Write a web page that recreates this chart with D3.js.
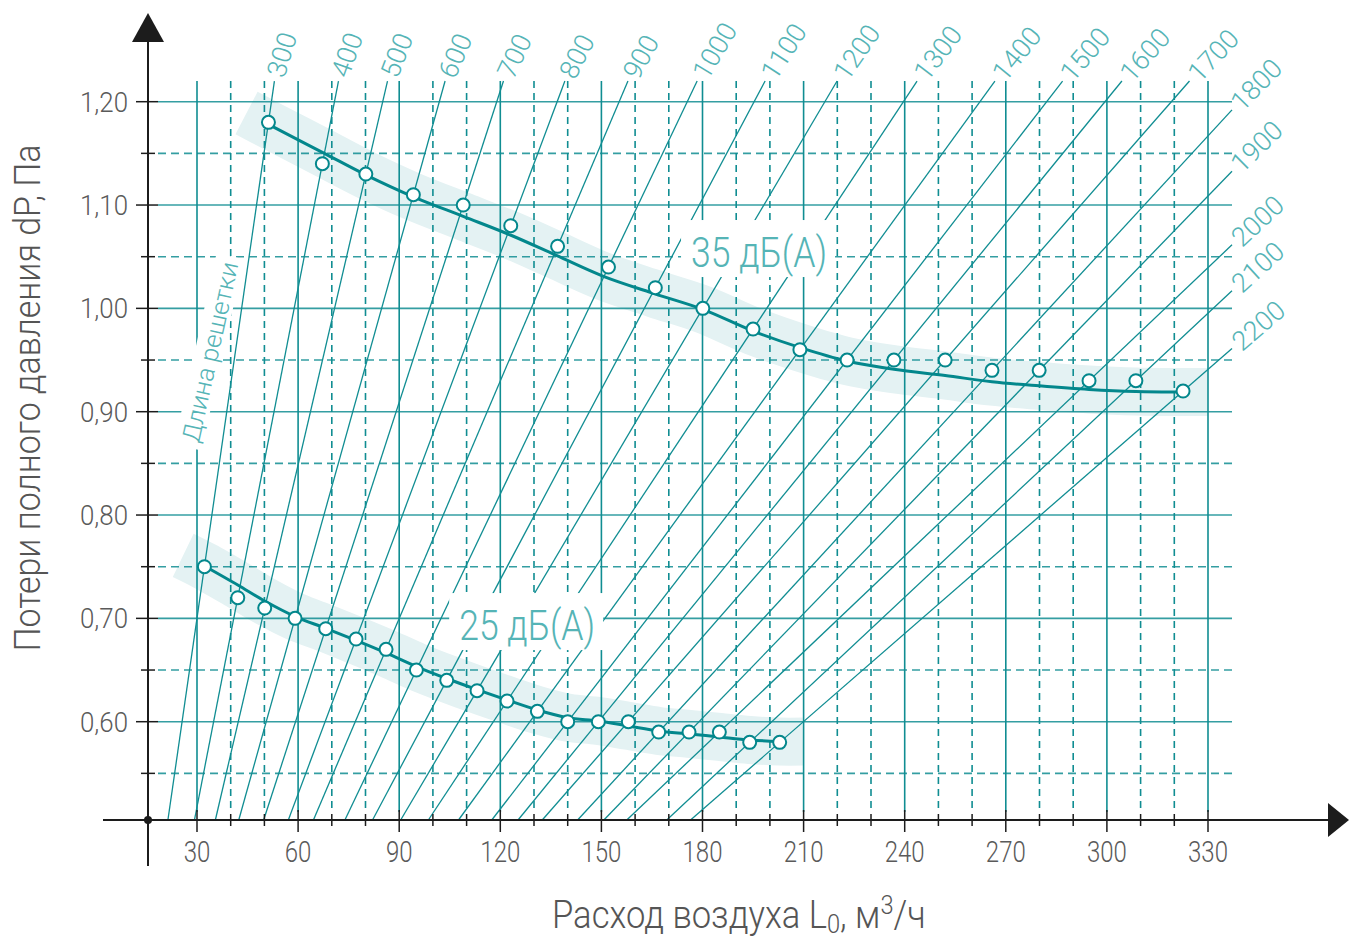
<!DOCTYPE html>
<html>
<head>
<meta charset="utf-8">
<script src="https://cdn.jsdelivr.net/npm/d3@7"></script>
<style>
  body { margin: 0; background: #fff; }
  text { font-family: Roboto, "Open Sans", sans-serif; font-weight: 300; }
</style>
</head>
<body>
<svg id="chart" width="1349" height="939"></svg>
<script>
// длина решетки, мм
const grilleLen = [300, 400, 500, 600, 700, 800, 900, 1000, 1100, 1200,
                   1300, 1400, 1500, 1600, 1700, 1800, 1900, 2000, 2100, 2200];

// точки 35 дБ(А): расход и потери давления
const L35  = [51.2, 67.2, 80.1, 94.2, 109.0, 123.1, 137.0, 152.1, 166.0, 180.1,
              195.0, 208.9, 222.9, 236.8, 252.0, 265.9, 279.9, 294.7, 308.6, 322.6];
const dP35 = [1.18, 1.14, 1.13, 1.11, 1.10, 1.08, 1.06, 1.04, 1.02, 1.00,
              0.98, 0.96, 0.95, 0.95, 0.95, 0.94, 0.94, 0.93, 0.93, 0.92];

// точки 25 дБ(А)
const L25  = [32.2, 42.1, 50.1, 59.1, 68.2, 77.2, 86.1, 95.1, 104.1, 113.1,
              122.0, 131.0, 140.0, 149.1, 158.0, 167.0, 176.0, 185.0, 194.0, 202.9];
const dP25 = [0.75, 0.72, 0.71, 0.70, 0.69, 0.68, 0.67, 0.65, 0.64, 0.63,
              0.62, 0.61, 0.60, 0.60, 0.60, 0.59, 0.59, 0.59, 0.58, 0.58];

// сглаженные кривые
const curve35L  = [51.2, 67.2, 80.2, 94.2, 109.0, 123.0, 136.8, 150.6, 165.9, 180.1,
                   195.0, 209.0, 222.9, 236.8, 252.0, 265.9, 279.9, 294.7, 308.6, 322.6];
const curve35dP = [1.178, 1.151, 1.129, 1.108, 1.089, 1.071, 1.051, 1.031, 1.014, 0.999,
                   0.978, 0.962, 0.949, 0.941, 0.935, 0.929, 0.925, 0.9215, 0.9195, 0.919];
const curve25L  = [32.2, 42.1, 50.1, 59.1, 68.2, 77.2, 86.1, 95.1, 104.1, 113.1,
                   122.0, 131.0, 140.0, 149.1, 158.0, 167.0, 176.0, 185.0, 194.0, 202.9];
const curve25dP = [0.7507, 0.7323, 0.7168, 0.7018, 0.6904, 0.6786, 0.6665, 0.6534, 0.6418, 0.6310,
                   0.6210, 0.6113, 0.6039, 0.6007, 0.5959, 0.5910, 0.5882, 0.5852, 0.5823, 0.5808];

// концы подсвеченных полос
const band35L = [44.7, 330], band35dP = [1.189, 0.919];
const band25L = [25.9, 209.8], band25dP = [0.761, 0.5808];

const xMajor = d3.range(30, 331, 30);
const xMinor = d3.range(40, 330, 10).filter(v => v % 30 !== 0);
const yMajor = [0.60, 0.70, 0.80, 0.90, 1.00, 1.10, 1.20];
const yMinor = [0.55, 0.65, 0.75, 0.85, 0.95, 1.05, 1.15];

const teal = "#108d92", tealText = "#55b4b6", bandColor = "#e4f2f3", axisColor = "#1c1c1c";

const svg = d3.select("#chart");
const x = d3.scaleLinear().domain([30, 330]).range([197, 1208]);
const y = d3.scaleLinear().domain([0.6, 1.2]).range([721.7, 101.7]);

const axisX = 148, axisY = 820;
const gridTop = y(1.22), gridRight = x(330) + 24, gridLeft = axisX + 10;

const line = d3.line().curve(d3.curveCatmullRom).x(d => x(d[0])).y(d => y(d[1]));
const pairs = (a, b) => a.map((v, i) => [v, b[i]]);

// полосы
function band(pts, ends) {
  const all = [[ends[0][0], ends[1][0]], ...pts, [ends[0][1], ends[1][1]]];
  svg.append("path").attr("d", line(all))
    .attr("fill", "none").attr("stroke", bandColor)
    .attr("stroke-width", 48).attr("stroke-linecap", "butt");
}
band(pairs(curve35L, curve35dP), [band35L, band35dP]);
band(pairs(curve25L, curve25dP), [band25L, band25dP]);

// сетка
const grid = svg.append("g").attr("stroke", teal).attr("stroke-width", 1.6);
grid.selectAll(".hm").data(yMajor).enter().append("line")
  .attr("x1", gridLeft).attr("x2", gridRight)
  .attr("y1", d => y(d)).attr("y2", d => y(d)).attr("stroke-opacity", 0.85);
grid.selectAll(".hn").data(yMinor).enter().append("line")
  .attr("x1", gridLeft).attr("x2", gridRight)
  .attr("y1", d => y(d)).attr("y2", d => y(d))
  .attr("stroke-dasharray", "8,5").attr("stroke-opacity", 0.85);
grid.selectAll(".vm").data(xMajor).enter().append("line")
  .attr("x1", d => x(d)).attr("x2", d => x(d))
  .attr("y1", gridTop).attr("y2", axisY - 8);
grid.selectAll(".vn").data(xMinor).enter().append("line")
  .attr("x1", d => x(d)).attr("x2", d => x(d))
  .attr("y1", gridTop).attr("y2", axisY - 8)
  .attr("stroke-dasharray", "7,5");

// подпись "Длина решетки"
const lenLabel = svg.append("g").attr("transform", "translate(210,352) rotate(-77.5)");
lenLabel.append("rect").attr("x", -98).attr("y", -15).attr("width", 196).attr("height", 28).attr("fill", "#fff");
lenLabel.append("text").attr("text-anchor", "middle").attr("dy", "0.35em")
  .attr("font-size", 25).attr("fill", tealText)
  .attr("textLength", 184).attr("lengthAdjust", "spacingAndGlyphs")
  .text("Длина решетки");

// линии длины решетки
const diag = svg.append("g");
grilleLen.forEach((len, i) => {
  const ax = x(L25[i]), ay = y(dP25[i]), bx = x(L35[i]), by = y(dP35[i]);
  const dx = bx - ax, dy = by - ay;
  let t = (axisY - ay) / dy;
  const x0 = ax + t * dx, y0 = axisY;
  t = (gridTop - ay) / dy;
  let x1 = ax + t * dx, y1 = gridTop;
  if (x1 > gridRight) {
    t = (gridRight - ax) / dx;
    x1 = gridRight; y1 = ay + t * dy;
  }
  diag.append("line").attr("x1", x0).attr("y1", y0).attr("x2", x1).attr("y2", y1)
    .attr("stroke", teal).attr("stroke-width", 1.3);
  const len2 = Math.hypot(dx, dy), ux = dx / len2, uy = dy / len2;
  const ang = Math.atan2(-dy, dx) * 180 / Math.PI;
  const labAng = 40 + (ang - 40) * 0.78;
  diag.append("text")
    .attr("transform", `translate(${x1 + ux * 5},${y1 + uy * 5}) rotate(${-labAng})`)
    .attr("dy", "0.35em").attr("font-size", 27).attr("fill", tealText)
    .text(len);
});

// подписи уровней шума
function noiseLabel(txt, lx, ly) {
  const g = svg.append("g");
  const t = g.append("text").attr("x", x(lx)).attr("y", y(ly))
    .attr("font-size", 43).attr("fill", tealText)
    .attr("textLength", 136).attr("lengthAdjust", "spacingAndGlyphs").text(txt);
  const b = t.node().getBBox();
  g.insert("rect", "text").attr("x", b.x - 10).attr("y", y(ly) - 47)
    .attr("width", b.width + 18).attr("height", 57).attr("fill", "#fff");
}
noiseLabel("35 дБ(A)", 176.6, 1.04);
noiseLabel("25 дБ(A)", 107.8, 0.679);

// кривые
[[curve35L, curve35dP], [curve25L, curve25dP]].forEach(c => {
  svg.append("path").attr("d", line(pairs(c[0], c[1])))
    .attr("fill", "none").attr("stroke", "#03878c").attr("stroke-width", 3);
});

// маркеры
[[L35, dP35], [L25, dP25]].forEach(s => {
  svg.append("g").selectAll("circle").data(pairs(s[0], s[1])).enter().append("circle")
    .attr("cx", d => x(d[0])).attr("cy", d => y(d[1])).attr("r", 6.5)
    .attr("fill", "#fff").attr("stroke", "#03878c").attr("stroke-width", 2);
});

// оси
const ax = svg.append("g").attr("stroke", axisColor).attr("stroke-width", 2);
ax.append("line").attr("x1", axisX).attr("x2", axisX).attr("y1", 36).attr("y2", 866);
ax.append("line").attr("x1", 103).attr("x2", 1332).attr("y1", axisY).attr("y2", axisY);
svg.append("path").attr("d", `M${axisX},13 L${axisX - 16},42 L${axisX + 16},42 Z`).attr("fill", axisColor);
svg.append("path").attr("d", `M1349,${axisY} L1328,${axisY - 17} L1328,${axisY + 17} Z`).attr("fill", axisColor);
svg.append("circle").attr("cx", axisX).attr("cy", axisY).attr("r", 4).attr("fill", axisColor);

const tk = svg.append("g").attr("stroke", axisColor).attr("stroke-width", 1.5);
tk.selectAll(".a").data(xMajor).enter().append("line")
  .attr("x1", d => x(d)).attr("x2", d => x(d)).attr("y1", axisY - 10).attr("y2", axisY + 12);
tk.selectAll(".b").data(xMinor).enter().append("line")
  .attr("x1", d => x(d)).attr("x2", d => x(d)).attr("y1", axisY - 6).attr("y2", axisY + 6);
tk.selectAll(".c").data(yMajor).enter().append("line")
  .attr("x1", axisX - 12).attr("x2", axisX + 10).attr("y1", d => y(d)).attr("y2", d => y(d));
tk.selectAll(".d").data(yMinor).enter().append("line")
  .attr("x1", axisX - 7).attr("x2", axisX + 7).attr("y1", d => y(d)).attr("y2", d => y(d));

const fmt = d => d3.format(".2f")(d).replace(".", ",");
svg.append("g").selectAll("text").data(xMajor).enter().append("text")
  .attr("x", d => x(d)).attr("y", 862).attr("text-anchor", "middle")
  .attr("font-size", 29).attr("fill", "#5a5a5a")
  .attr("textLength", d => String(d).length * 13.3).attr("lengthAdjust", "spacingAndGlyphs")
  .text(d => d);
svg.append("g").selectAll("text").data(yMajor).enter().append("text")
  .attr("x", 128).attr("y", d => y(d) + 10).attr("text-anchor", "end")
  .attr("font-size", 28).attr("fill", "#5a5a5a")
  .attr("textLength", 48).attr("lengthAdjust", "spacingAndGlyphs")
  .text(fmt);

// названия осей
svg.append("text").attr("transform", "translate(40,398) rotate(-90)")
  .attr("text-anchor", "middle").attr("font-size", 37).attr("fill", "#555")
  .attr("textLength", 507).attr("lengthAdjust", "spacingAndGlyphs")
  .text("Потери полного давления dP, Па");

const xt = svg.append("text").attr("transform", "translate(552,928) scale(0.91,1)")
  .attr("font-size", 38).attr("fill", "#555");
xt.append("tspan").text("Расход воздуха L");
xt.append("tspan").attr("font-size", 26).attr("dy", 5).text("0");
xt.append("tspan").attr("dy", -5).text(", м");
xt.append("tspan").attr("font-size", 26).attr("dy", -14).text("3");
xt.append("tspan").attr("dy", 14).text("/ч");
</script>
</body>
</html>
